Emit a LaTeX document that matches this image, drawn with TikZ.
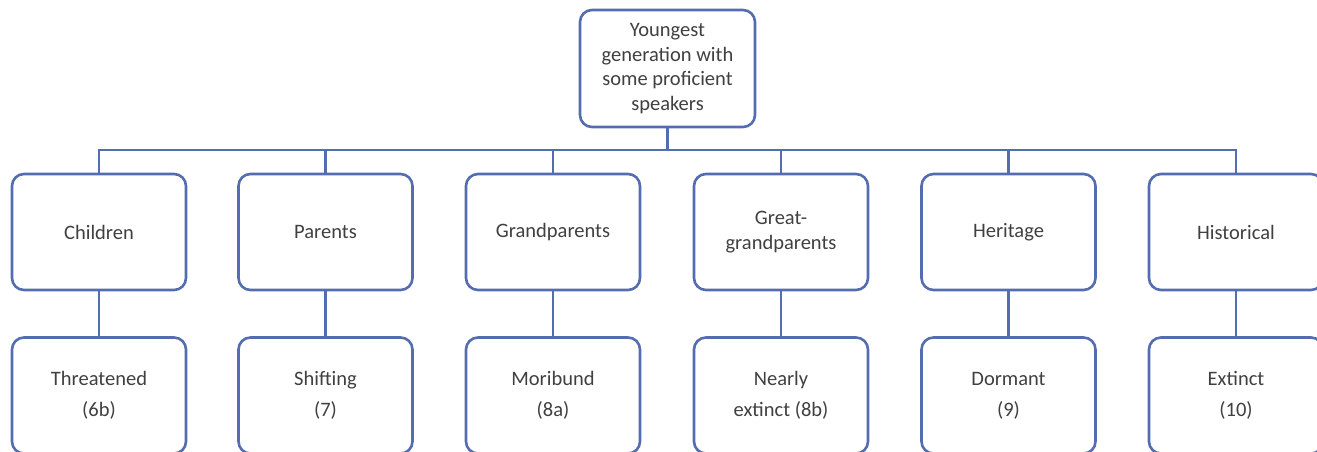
\documentclass[tikz,border=0pt]{standalone}
\usepackage{fontspec}
\setmainfont{Carlito}
\definecolor{boxline}{RGB}{84,108,176}
\definecolor{boxtext}{RGB}{64,64,64}
\tikzset{
  gen/.style={draw=boxline, line width=2.6pt, rounded corners=12pt, fill=white,
    minimum width=174pt, minimum height=116pt, inner sep=0pt, outer sep=0pt,
    align=center, text=boxtext, font=\fontsize{20.5}{24.5}\selectfont},
  link/.style={draw=boxline, line width=2.8pt}
}
\begin{document}
\begin{tikzpicture}[x=1pt, y=-1pt]
\useasboundingbox (0,0) rectangle (1317,452);
\clip (0,0) rectangle (1317,452);
\fill[white] (0,0) rectangle (1317,452);

% root
\node[gen, minimum width=175pt, minimum height=117pt] (root) at (667.5,68.5)
  {Youngest\\generation with\\some proficient\\speakers};

% generation row
\node[gen] (c1) at (99,232)    {Children};
\node[gen] (c2) at (325.5,232) {Parents};
\node[gen] (c3) at (553,232)   {Grandparents};
\node[gen] (c4) at (781,232)   {Great-\\grandparents};
\node[gen] (c5) at (1008.5,232){Heritage};
\node[gen] (c6) at (1236,232)  {Historical};

% status row
\node[gen] (d1) at (99,395.5)    {Threatened\\[6.5pt](6b)};
\node[gen] (d2) at (325.5,395.5) {Shifting\\[6.5pt](7)};
\node[gen] (d3) at (553,395.5)   {Moribund\\[6.5pt](8a)};
\node[gen] (d4) at (781,395.5)   {Nearly\\[6.5pt]extinct (8b)};
\node[gen] (d5) at (1008.5,395.5){Dormant\\[6.5pt](9)};
\node[gen] (d6) at (1236,395.5)  {Extinct\\[6.5pt](10)};

% tree links
\foreach \i in {1,...,6} {
  \draw[link] (root.south) -- ++(0,23) -| (c\i.north);
  \draw[link] (c\i.south) -- (d\i.north);
}
\end{tikzpicture}
\end{document}
